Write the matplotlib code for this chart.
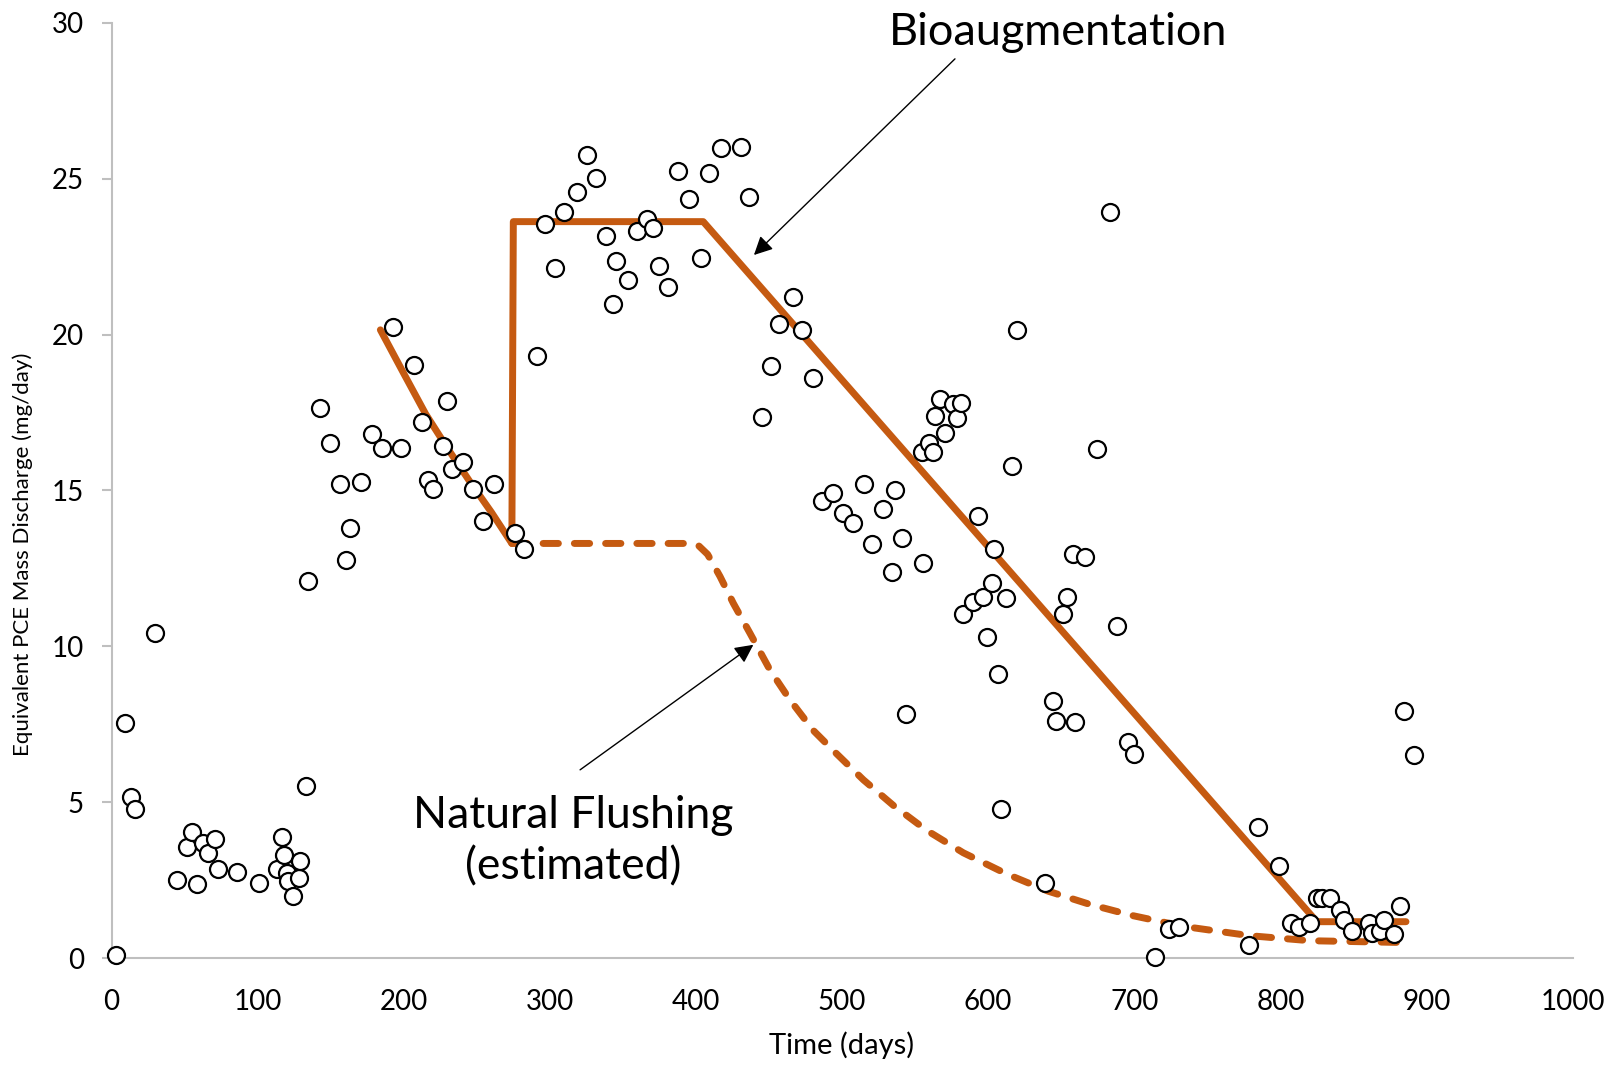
import matplotlib as mpl
mpl.use('Agg')
import matplotlib.pyplot as plt

plt.rcParams['font.family'] = ['Lato', 'DejaVu Sans']

# measured PCE mass discharge (days, mg/day)
obs_t = [3, 9, 13, 16, 30, 44.6, 51.5, 54.9, 58.3, 62.8, 66.3, 70.8, 73.1, 85.7,
         100.7, 113, 116.5, 118.3, 120, 120.6, 124, 128.5, 129, 133.1, 134.8,
         142.5, 149.8, 156.4, 160.7, 163, 170.6, 178.1, 184.9, 192.5, 198.4,
         207.3, 212.5, 216.9, 219.8, 227.1, 229.8, 233.1, 240.8, 247.4, 254,
         261.8, 276, 282.3, 291, 296.9, 303.6, 309.9, 318.4, 325.2, 331.6,
         338.5, 343.5, 345.3, 353.5, 359.9, 366.7, 370.8, 374.5, 381.1, 387.9,
         395.3, 403.5, 409.2, 417, 431.1, 436.1, 445.2, 451.2, 457, 466.2,
         472.8, 480.4, 486, 493.6, 500.5, 507.8, 515.3, 520.3, 527.8, 534.5,
         536.3, 541.3, 543.8, 555.2, 554.6, 559.8, 562.1, 563.7, 567.1, 570.5,
         576.2, 578.9, 581.4, 583, 589.5, 592.9, 596.3, 599.4, 602.9, 604.3,
         606.9, 608.5, 612, 616.2, 619.6, 638.9, 644.6, 646.2, 651.1, 653.8,
         657.9, 659.5, 666.3, 674.8, 683.5, 688, 695.4, 699.7, 714, 723.8,
         730.7, 778.8, 785, 799, 807.1, 813.1, 820.4, 824.9, 828.4, 834,
         840.9, 843.6, 849.3, 860.9, 862.6, 868.2, 871, 877.8, 881.9, 884.8,
         891.2]
obs_q = [0.1, 7.55, 5.16, 4.78, 10.42, 2.51, 3.57, 4.06, 2.38, 3.68, 3.38, 3.81,
         2.86, 2.77, 2.42, 2.86, 3.89, 3.31, 2.72, 2.48, 2.0, 2.56, 3.13, 5.52,
         12.1, 17.65, 16.53, 15.22, 12.77, 13.78, 15.26, 16.81, 16.37, 20.23,
         16.37, 19.03, 17.2, 15.35, 15.03, 16.43, 17.88, 15.69, 15.92, 15.04,
         14.02, 15.22, 13.62, 13.13, 19.3, 23.56, 22.14, 23.92, 24.58, 25.75,
         25.03, 23.16, 20.99, 22.36, 21.74, 23.32, 23.71, 23.43, 22.19, 21.53,
         25.25, 24.35, 22.46, 25.17, 25.97, 26.0, 24.4, 17.35, 18.99, 20.33,
         21.21, 20.15, 18.6, 14.65, 14.92, 14.27, 13.97, 15.21, 13.27, 14.4,
         12.38, 15.0, 13.49, 7.82, 12.68, 16.22, 16.53, 16.22, 17.4, 17.92,
         16.85, 17.77, 17.31, 17.79, 11.03, 11.41, 14.19, 11.57, 10.29, 12.02,
         13.12, 9.1, 4.8, 11.54, 15.79, 20.15, 2.42, 8.25, 7.62, 11.03, 11.57,
         12.96, 7.58, 12.85, 16.33, 23.94, 10.65, 6.92, 6.56, 0.03, 0.93, 0.99,
         0.42, 4.2, 2.96, 1.12, 0.99, 1.14, 1.92, 1.92, 1.92, 1.55, 1.22, 0.88,
         1.14, 0.82, 0.88, 1.22, 0.77, 1.68, 7.94, 6.52]

# bioaugmentation trend (solid)
bio_t = [184, 200, 215, 230, 245, 260, 274, 275, 405, 825, 886]
bio_q = [20.15, 18.75, 17.45, 16.35, 15.3, 14.3, 13.3, 23.62, 23.62, 1.17, 1.17]

# natural flushing estimate (dashed)
nat_t = [274, 396, 402, 408, 416.5, 425.6, 437, 450.7, 464.4, 480.4, 496.4,
         514.6, 535.1, 557.9, 583, 612.7, 641, 670, 699.4, 733.6, 779.3,
         820.3, 886.5]
nat_q = [13.3, 13.3, 13.22, 12.95, 12.24, 11.38, 10.42, 9.24, 8.28, 7.3, 6.55,
         5.72, 4.9, 4.1, 3.38, 2.7, 2.15, 1.72, 1.36, 1.02, 0.72, 0.56, 0.5]

orange = '#C55A11'
grey = '#BFBFBF'

fig = plt.figure(figsize=(16.19, 10.65), dpi=100)
ax = fig.add_axes([0.0689, 0.1003, 0.9024, 0.8784])

ax.plot(bio_t, bio_q, color=orange, lw=5, solid_capstyle='round',
        solid_joinstyle='round', zorder=2)
ax.plot(nat_t, nat_q, color=orange, lw=5, dashes=(2.2, 2.3),
        dash_capstyle='round', dash_joinstyle='round', zorder=2)
ax.scatter(obs_t, obs_q, s=150, facecolor='white', edgecolor='black',
           linewidth=1.6, zorder=3, clip_on=False)

ax.set_xlim(0, 1000)
ax.set_ylim(0, 30)
ax.set_xticks(range(0, 1001, 100))
ax.set_yticks(range(0, 31, 5))

for s in ['top', 'right']:
    ax.spines[s].set_visible(False)
for s in ['left', 'bottom']:
    ax.spines[s].set_color(grey)
    ax.spines[s].set_linewidth(1.5)
ax.tick_params(axis='y', length=7, width=1.5, color=grey, pad=13, labelsize=20)
ax.tick_params(axis='x', length=0, pad=22, labelsize=20)

ax.set_xlabel('Time (days)', fontsize=21, va='center')
ax.xaxis.set_label_coords(0.5, -0.093)
ax.set_ylabel('Equivalent PCE Mass Discharge (mg/day)', fontsize=16,
              va='center')
ax.yaxis.set_label_coords(-0.0608, 0.432)

ax.annotate('', xy=(439.7, 22.55), xytext=(577.3, 28.84),
            arrowprops=dict(arrowstyle='-|>', color='black', lw=1,
                            mutation_scale=28, shrinkA=0, shrinkB=0))
ax.text(648, 29.7, 'Bioaugmentation', fontsize=32.5, ha='center', va='center')

ax.annotate('', xy=(439.3, 10.05), xytext=(320.7, 6.04),
            arrowprops=dict(arrowstyle='-|>', color='black', lw=1,
                            mutation_scale=28, shrinkA=0, shrinkB=0))
ax.text(316, 3.74, 'Natural Flushing\n(estimated)', fontsize=32,
        ha='center', va='center', linespacing=1.3)

fig.savefig('out.png', dpi=100)
